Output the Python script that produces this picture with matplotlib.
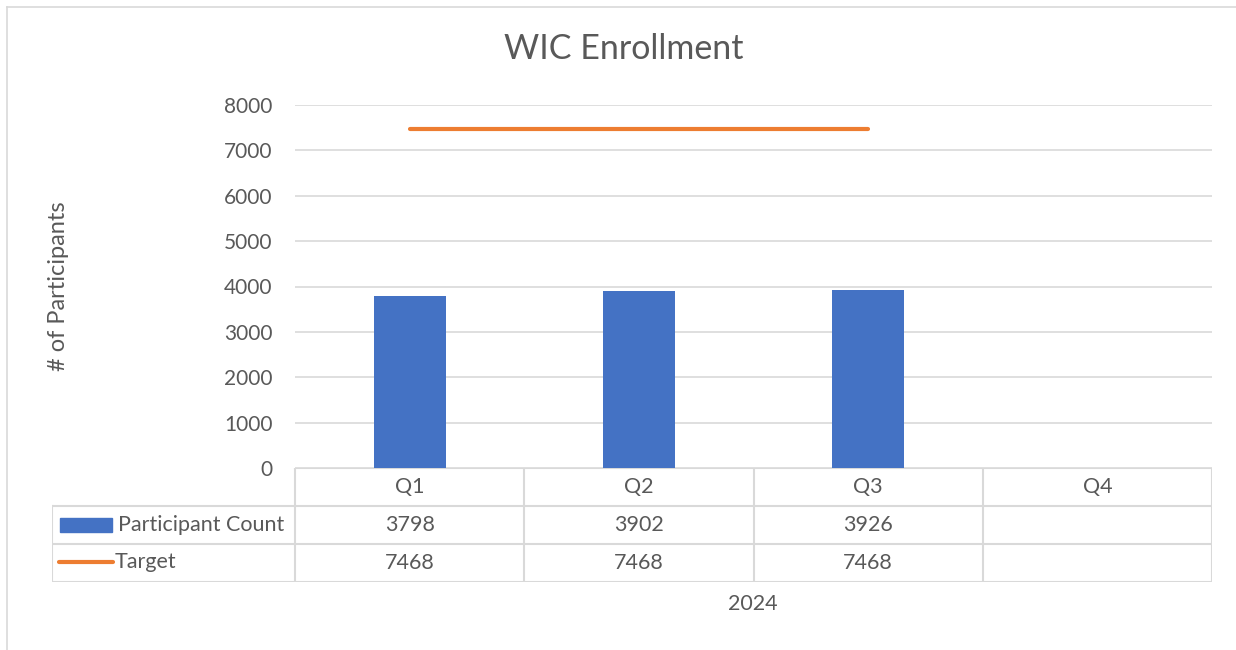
import matplotlib
matplotlib.use('Agg')
import matplotlib.pyplot as plt

plt.rcParams['font.family'] = ['Lato', 'DejaVu Sans']

quarters = ['Q1', 'Q2', 'Q3', 'Q4']
participant_count = [3798, 3902, 3926]
target = [7468, 7468, 7468]
year_label = '2024'

blue = '#4472C4'
orange = '#ED7D31'
text_col = '#595959'
grid_col = '#D9D9D9'

W, H = 1236, 650
fig = plt.figure(figsize=(W / 100, H / 100), dpi=100)

def frac(x0, y0, x1, y1):
    # pixel box (top-left origin) -> figure fraction
    return [x0 / W, 1 - y1 / H, (x1 - x0) / W, (y1 - y0) / H]

# outer chart border
fig.add_artist(plt.Line2D([7 / W, 7 / W], [1 - 7 / H, 0], color=grid_col, lw=1.2))
fig.add_artist(plt.Line2D([7 / W, 1], [1 - 7 / H, 1 - 7 / H], color=grid_col, lw=1.2))

# main plot area
ax = fig.add_axes(frac(295, 105, 1212, 468))
x = list(range(len(participant_count)))
ax.bar(x, participant_count, width=0.314, color=blue, zorder=3)
ax.plot(x, target, color=orange, lw=3, solid_capstyle='round', zorder=4)
ax.set_xlim(-0.5, len(quarters) - 0.5)
ax.set_ylim(0, 8000)
ax.set_yticks(range(0, 8001, 1000))
ax.set_xticks([])
ax.grid(axis='y', color=grid_col, lw=1.2, zorder=0)
for s in ax.spines.values():
    s.set_visible(False)
ax.tick_params(axis='y', length=0, pad=16, labelsize=15, labelcolor=text_col)
ax.set_ylabel('# of Participants', fontsize=17, color=text_col)
ax.yaxis.set_label_coords(-0.247, 0.5)

fig.text(624 / W, 1 - 49 / H, 'WIC Enrollment', ha='center', va='center',
         fontsize=24.5, color=text_col)

# data table below the plot
tab = fig.add_axes(frac(52, 468, 1212, 582))
left = -0.5 - (295 - 52) / 229.25
tab.set_xlim(left, len(quarters) - 0.5)
tab.set_ylim(3, 0)
tab.axis('off')
lw = 1.5
# horizontal lines
tab.plot([-0.5, len(quarters) - 0.5], [0, 0], color=grid_col, lw=lw)
for r in [1, 2, 3]:
    tab.plot([left, len(quarters) - 0.5], [r, r], color=grid_col, lw=lw)
# vertical lines
tab.plot([left, left], [1, 3], color=grid_col, lw=lw)
for c in range(len(quarters) + 1):
    tab.plot([c - 0.5, c - 0.5], [0, 3], color=grid_col, lw=lw)

fs = 15.5
for i, q in enumerate(quarters):
    tab.text(i, 0.5, q, ha='center', va='center', fontsize=fs, color=text_col)
for i, v in enumerate(participant_count):
    tab.text(i, 1.5, str(v), ha='center', va='center', fontsize=fs, color=text_col)
for i, v in enumerate(target):
    tab.text(i, 2.5, str(v), ha='center', va='center', fontsize=fs, color=text_col)

# legend keys inside table
kx0 = left + 8 / 229.25
kx1 = left + 60 / 229.25
tab.add_patch(plt.Rectangle((kx0, 1.32), kx1 - kx0, 0.36, color=blue))
tab.plot([left + 7 / 229.25, left + 61 / 229.25], [2.47, 2.47], color=orange, lw=3,
         solid_capstyle='round')
tab.text(left + 66 / 229.25, 1.5, 'Participant Count', ha='left', va='center',
         fontsize=fs, color=text_col)
tab.text(left + 63 / 229.25, 2.47, 'Target', ha='left', va='center',
         fontsize=fs, color=text_col)

fig.text(753 / W, 1 - 604 / H, year_label, ha='center', va='center',
         fontsize=fs, color=text_col)

fig.savefig('out.png', dpi=100)
